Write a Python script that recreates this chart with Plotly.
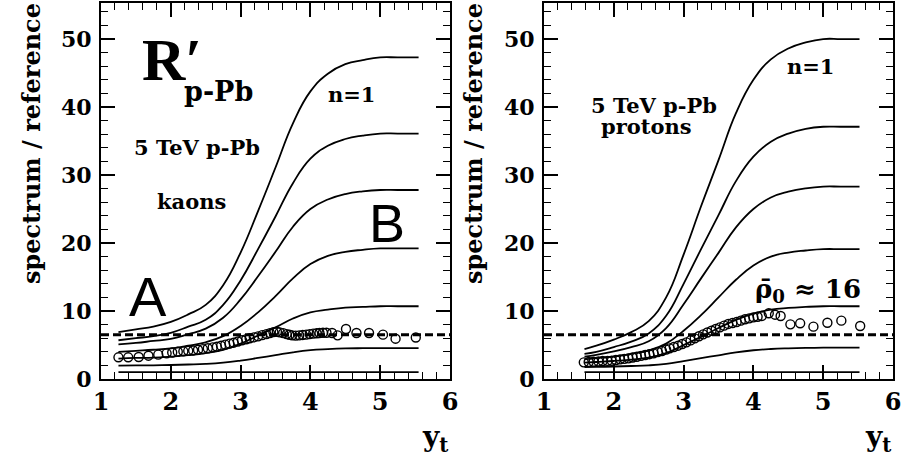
import plotly.graph_objects as go

# ---------------- kaons (left panel) ----------------
kaon_yt = [1.25, 1.39, 1.54, 1.68, 1.82, 1.94, 2.02, 2.10, 2.18, 2.25, 2.32, 2.39, 2.46,
           2.53, 2.60, 2.66, 2.72, 2.78, 2.84, 2.90, 2.96, 3.02, 3.08, 3.13, 3.19, 3.25,
           3.31, 3.37, 3.42, 3.47, 3.52, 3.56, 3.61, 3.66, 3.70, 3.74, 3.79, 3.84, 3.89,
           3.94, 3.99, 4.04, 4.09, 4.13, 4.18, 4.23, 4.31, 4.39, 4.51, 4.66, 4.84, 5.04,
           5.22, 5.51]
kaon_ratio = [3.19, 3.19, 3.24, 3.43, 3.58, 3.77, 3.90, 4.00, 4.07, 4.14, 4.20, 4.30, 4.40,
              4.52, 4.65, 4.75, 4.90, 5.05, 5.20, 5.34, 5.52, 5.70, 5.85, 6.00, 6.12, 6.27,
              6.45, 6.60, 6.75, 6.90, 6.95, 6.86, 6.75, 6.60, 6.50, 6.42, 6.38, 6.42, 6.48,
              6.52, 6.60, 6.67, 6.72, 6.76, 6.80, 6.81, 6.76, 6.42, 7.35, 6.76, 6.76, 6.52,
              5.93, 6.10]

kaon_model_yt = [1.25, 1.5, 1.75, 2.0, 2.25, 2.5, 2.75, 3.0, 3.25, 3.5, 3.75, 4.0, 4.25,
                 4.5, 4.75, 5.0, 5.25, 5.55]
kaon_model = [
    [6.9, 7.3, 7.7, 8.4, 9.5, 10.9, 13.8, 18.6, 24.7, 31.1, 37.6, 42.3, 44.9, 46.3, 46.9, 47.3, 47.3, 47.3],
    [5.7, 6.0, 6.3, 6.8, 7.7, 8.7, 10.9, 14.5, 19.1, 23.9, 28.8, 32.4, 34.3, 35.3, 35.8, 36.1, 36.1, 36.1],
    [5.1, 5.3, 5.6, 5.9, 6.6, 7.4, 9.0, 11.7, 15.1, 18.7, 22.4, 25.0, 26.4, 27.2, 27.6, 27.8, 27.8, 27.8],
    [4.0, 4.15, 4.3, 4.5, 4.9, 5.4, 6.3, 7.8, 9.8, 12.2, 14.8, 16.9, 18.1, 18.7, 19.0, 19.2, 19.2, 19.2],
    [3.0, 3.1, 3.15, 3.3, 3.5, 3.8, 4.3, 5.2, 6.4, 7.6, 8.9, 9.8, 10.2, 10.5, 10.6, 10.7, 10.7, 10.7],
    [1.96, 1.99, 2.01, 2.06, 2.13, 2.22, 2.40, 2.71, 3.10, 3.51, 3.93, 4.24, 4.39, 4.49, 4.53, 4.55, 4.55, 4.55],
    [1.0, 1.0, 1.0, 1.0, 1.0, 1.0, 1.0, 1.0, 1.0, 1.0, 1.0, 1.0, 1.0, 1.0, 1.0, 1.0, 1.0, 1.0],
]

# ---------------- protons (right panel) ----------------
proton_yt = [1.57, 1.64, 1.71, 1.78, 1.84, 1.91, 1.97, 2.03, 2.09, 2.15, 2.21, 2.27, 2.33,
             2.39, 2.45, 2.51, 2.57, 2.63, 2.69, 2.75, 2.80, 2.86, 2.92, 2.98, 3.04, 3.10,
             3.16, 3.22, 3.28, 3.34, 3.40, 3.46, 3.52, 3.58, 3.64, 3.70, 3.76, 3.82, 3.88,
             3.94, 4.00, 4.06, 4.12, 4.22, 4.31, 4.39, 4.53, 4.67, 4.86, 5.06, 5.26, 5.53]
proton_ratio = [2.45, 2.50, 2.54, 2.59, 2.64, 2.66, 2.69, 2.79, 2.89, 2.96, 3.04, 3.16, 3.28,
                3.40, 3.53, 3.65, 3.77, 3.95, 4.12, 4.32, 4.51, 4.70, 4.90, 5.14, 5.39, 5.68,
                5.98, 6.28, 6.57, 6.84, 7.10, 7.35, 7.60, 7.85, 8.10, 8.24, 8.38, 8.58, 8.78,
                8.92, 9.07, 9.16, 9.26, 9.66, 9.46, 9.26, 8.04, 8.19, 7.70, 8.28, 8.58, 7.80]

proton_model_yt = [1.58, 1.75, 2.0, 2.25, 2.5, 2.75, 3.0, 3.25, 3.5, 3.75, 4.0, 4.25, 4.5,
                   4.75, 5.0, 5.25, 5.52]
proton_model = [
    [4.4, 4.9, 5.8, 6.9, 8.5, 12.0, 18.3, 25.4, 32.2, 39.1, 44.0, 47.0, 48.6, 49.5, 50.0, 50.0, 50.0],
    [3.7, 4.0, 4.7, 5.5, 6.7, 9.3, 14.0, 19.1, 24.1, 29.1, 32.7, 34.9, 36.1, 36.8, 37.1, 37.1, 37.1],
    [3.3, 3.55, 4.05, 4.7, 5.55, 7.5, 11.0, 14.8, 18.55, 22.3, 25.0, 26.7, 27.55, 28.05, 28.3, 28.3, 28.3],
    [2.9, 3.06, 3.3, 3.7, 4.2, 5.2, 7.1, 9.4, 12.0, 14.6, 16.7, 18.0, 18.6, 18.9, 19.1, 19.1, 19.1],
    [2.4, 2.5, 2.65, 2.86, 3.15, 3.8, 5.0, 6.2, 7.5, 8.7, 9.6, 10.2, 10.45, 10.6, 10.7, 10.7, 10.7],
    [1.75, 1.78, 1.84, 1.91, 2.01, 2.23, 2.63, 3.06, 3.49, 3.92, 4.23, 4.41, 4.51, 4.57, 4.6, 4.6, 4.6],
    [1.0, 1.0, 1.0, 1.0, 1.0, 1.0, 1.0, 1.0, 1.0, 1.0, 1.0, 1.0, 1.0, 1.0, 1.0, 1.0, 1.0],
]

# horizontal reference level (dashed)
ref_yt = [1.0, 6.0]
ref_level = [6.5, 6.5]

x_ticks = [1, 2, 3, 4, 5, 6]
y_ticks = [0, 10, 20, 30, 40, 50]

SERIF = "DejaVu Serif"
fig = go.Figure()


def add_panel(xa, ya, model_x, model, pts_x, pts_y):
    for curve in model:
        fig.add_trace(go.Scatter(x=model_x, y=curve, mode="lines", xaxis=xa, yaxis=ya,
                                 line=dict(color="black", width=1.8, shape="spline", smoothing=1.3),
                                 showlegend=False, hoverinfo="skip"))
    fig.add_trace(go.Scatter(x=ref_yt, y=ref_level, mode="lines", xaxis=xa, yaxis=ya,
                             line=dict(color="black", width=3, dash="8px,4px"),
                             showlegend=False, hoverinfo="skip"))
    fig.add_trace(go.Scatter(x=pts_x, y=pts_y, mode="markers", xaxis=xa, yaxis=ya,
                             marker=dict(symbol="circle-open", size=9, color="black",
                                         line=dict(width=1.4, color="black")),
                             showlegend=False))


add_panel("x", "y", kaon_model_yt, kaon_model, kaon_yt, kaon_ratio)
add_panel("x2", "y2", proton_model_yt, proton_model, proton_yt, proton_ratio)

W, H = 908, 457
y_dom = [1 - 379 / H, 1 - 3 / H]

# boxed frame with inward major/minor ticks on all four sides
frame = dict(showline=True, linewidth=2, linecolor="black", showgrid=False, zeroline=False,
             ticks="inside", ticklen=14, tickwidth=1.5, tickcolor="black", mirror="allticks",
             layer="above traces")


def xaxis_style(domain, anchor):
    return dict(domain=domain, anchor=anchor, range=[x_ticks[0], x_ticks[-1]],
                tickmode="array", tickvals=x_ticks, ticktext=[str(v) for v in x_ticks],
                ticklabelstandoff=0,
                tickfont=dict(family=SERIF, size=24, color="black", weight="bold"),
                minor=dict(dtick=0.2, tick0=x_ticks[0], ticks="inside", ticklen=7,
                           tickwidth=1.2, tickcolor="black", showgrid=False),
                **frame)


def yaxis_style(domain, anchor):
    return dict(domain=domain, anchor=anchor, range=[0, 55.3],
                tickmode="array", tickvals=y_ticks, ticktext=[str(v) for v in y_ticks],
                ticklabelstandoff=3,
                tickfont=dict(family=SERIF, size=22, color="black", weight="bold"),
                minor=dict(dtick=2, tick0=0, ticks="inside", ticklen=7,
                           tickwidth=1.2, tickcolor="black", showgrid=False),
                **frame)


fig.update_layout(
    template="none",
    width=W, height=H, margin=dict(l=0, r=0, t=0, b=0),
    paper_bgcolor="white", plot_bgcolor="white",
    xaxis=xaxis_style([101 / W, 450 / W], "y"),
    yaxis=yaxis_style(y_dom, "x"),
    xaxis2=xaxis_style([544 / W, 893 / W], "y2"),
    yaxis2=yaxis_style(y_dom, "x2"),
)


def label(text, x, y, xref, yref, size=21, family=SERIF, bold=True,
          xanchor="center", yanchor="middle", **kw):
    fig.add_annotation(text=f"<b>{text}</b>" if bold else text, x=x, y=y, xref=xref, yref=yref,
                       xanchor=xanchor, yanchor=yanchor, showarrow=False,
                       font=dict(family=family, size=size, color="black"), **kw)


# left panel texts
label("R′", 1.56, 46.9, "x", "y", size=60, family="Liberation Serif, DejaVu Serif", xanchor="left")
label("p-Pb", 2.16, 42.3, "x", "y", size=27, xanchor="left")
label("n=1", 4.59, 41.9, "x", "y")
label("5 TeV p-Pb", 2.37, 34.1, "x", "y")
label("kaons", 2.30, 26.1, "x", "y")
label("A", 1.67, 12.2, "x", "y", size=56, family="Liberation Sans", bold=False)
label("B", 5.10, 23.0, "x", "y", size=54, family="Liberation Sans", bold=False)

# right panel texts
label("n=1", 4.82, 45.9, "x2", "y2")
label("5 TeV p-Pb", 2.58, 40.2, "x2", "y2")
label("protons", 2.47, 37.1, "x2", "y2")
label("ρ̄<sub>0</sub> ≈ 16", 4.78, 13.0, "x2", "y2", size=26)

# axis titles
for xp in (31 / W, 473 / W):
    label("spectrum / reference", xp, 1 - 144 / H, "paper", "paper", size=24, textangle=-90)
for xp in (450 / W, 893 / W):
    label("y<sub>t</sub>", xp, 1 - 438 / H, "paper", "paper", size=28, xanchor="right")

fig.write_html("out.html")
